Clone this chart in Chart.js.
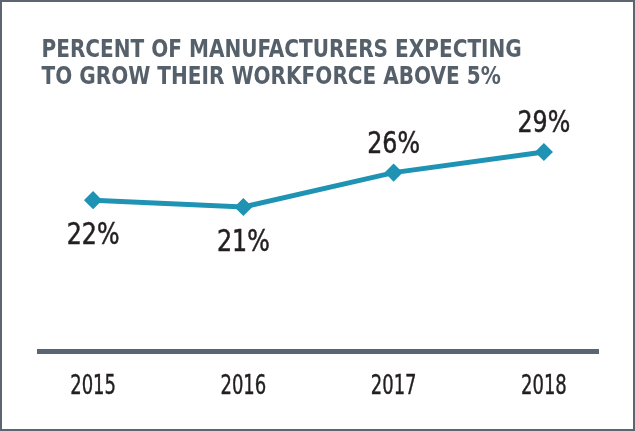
<!DOCTYPE html>
<html lang="en">
<head>
<meta charset="UTF-8">
<title>Manufacturers expecting workforce growth</title>
<script src="https://cdn.jsdelivr.net/npm/chart.js"></script>
<style>
  html, body { margin: 0; padding: 0; background: #fff; }
  .frame { width: 635px; height: 431px; box-sizing: border-box; border: 2px solid #5d6670; }
  .inner { position: relative; width: 100%; height: 100%; }
  canvas { display: block; }
</style>
</head>
<body>
<div class="frame"><div class="inner"><canvas id="growth"></canvas></div></div>
<script>
// data
const years = [2015, 2016, 2017, 2018];
const percents = [22, 21, 26, 29];
const labelBelow = [true, true, false, false];
const titleLines = ['PERCENT OF MANUFACTURERS EXPECTING', 'TO GROW THEIR WORKFORCE ABOVE 5%'];

const FONT = '"DejaVu Sans Condensed", "DejaVu Sans", sans-serif';
const TEAL = '#1f93b4';
const INK = '#231f20';

// condensed look: squeeze text horizontally around its anchor,
// optional thin outline to make it a bit heavier
function squeezed(ctx, text, x, y, sx, weight) {
  ctx.save();
  ctx.translate(x, y);
  ctx.scale(sx, 1);
  ctx.fillText(text, 0, 0);
  if (weight) {
    ctx.lineWidth = weight;
    ctx.strokeStyle = ctx.fillStyle;
    ctx.strokeText(text, 0, 0);
  }
  ctx.restore();
}

// title, point labels and year labels
const textLayer = {
  id: 'textLayer',
  afterDraw(chart) {
    const ctx = chart.ctx;
    const meta = chart.getDatasetMeta(0);
    const xs = chart.scales.x;
    ctx.save();
    ctx.textBaseline = 'alphabetic';

    // title
    ctx.textAlign = 'left';
    ctx.fillStyle = '#56606b';
    ctx.font = 'bold 24.3px ' + FONT;
    squeezed(ctx, titleLines[0], 39.5, 54.7, 0.918);
    squeezed(ctx, titleLines[1], 39.5, 82.3, 0.918);

    // value next to each point
    ctx.textAlign = 'center';
    ctx.fillStyle = INK;
    ctx.font = '30px ' + FONT;
    meta.data.forEach((pt, i) => {
      const dy = labelBelow[i] ? 44 : -20;
      squeezed(ctx, percents[i] + '%', pt.x, pt.y + dy, 0.88, 0.5);
    });

    // year under the axis
    ctx.font = '26px ' + FONT;
    years.forEach(y => {
      squeezed(ctx, String(y), xs.getPixelForValue(y), 391.5, 0.77, 0.4);
    });
    ctx.restore();
  }
};

new Chart(document.getElementById('growth'), {
  type: 'line',
  data: {
    datasets: [{
      data: years.map((y, i) => ({ x: y, y: percents[i] })),
      borderColor: TEAL,
      backgroundColor: TEAL,
      borderWidth: 5,
      tension: 0,
      pointStyle: 'rectRot',
      pointRadius: 8,
      pointHoverRadius: 8,
      pointBorderWidth: 1.5,
      pointBorderColor: TEAL,
      pointBackgroundColor: TEAL,
      clip: false
    }]
  },
  options: {
    responsive: true,
    maintainAspectRatio: false,
    animation: false,
    layout: { padding: { left: 37, right: 35, top: 101.8, bottom: 77.5 } },
    plugins: {
      legend: { display: false },
      tooltip: { enabled: false },
      title: { display: false }
    },
    scales: {
      x: {
        type: 'linear',
        min: 2014.64,
        max: 2018.36,
        afterBuildTicks: scale => { scale.ticks = years.map(v => ({ value: v })); },
        grid: { display: false, drawTicks: false },
        border: { display: true, color: '#5a6472', width: 5 },
        ticks: { display: false }
      },
      y: {
        display: false,
        min: 0,
        max: 36
      }
    }
  },
  plugins: [textLayer]
});
</script>
</body>
</html>
